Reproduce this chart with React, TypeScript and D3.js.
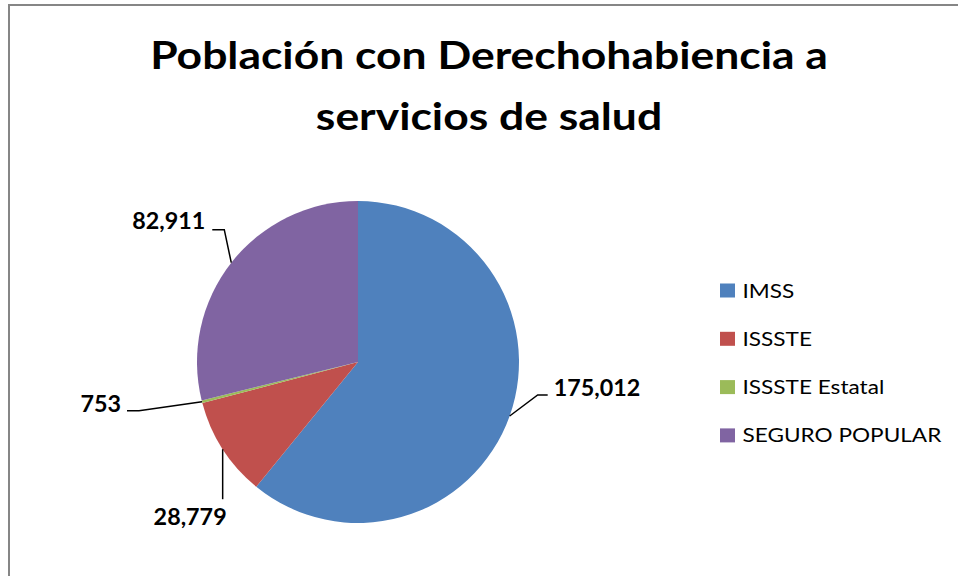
import React from "react";
import * as d3 from "d3";

const categories = ["IMSS", "ISSSTE", "ISSSTE Estatal", "SEGURO POPULAR"];
const values = [175012, 28779, 753, 82911];
const labels = ["175,012", "28,779", "753", "82,911"];
const colors = ["#4F81BD", "#C0504D", "#9BBB59", "#8064A2"];
const titleLines = ["Población con Derechohabiencia a", "servicios de salud"];

// leader layout: elbow offset, horizontal length, text offset, anchor
type Leader = { ex: number; ey: number; hx: number; tdx: number; tdy: number; anchor: "start" | "end" | "middle" };
const leaders: Leader[] = [
  { ex: 28, ey: -21, hx: 10, tdx: 6, tdy: 1, anchor: "start" },
  { ex: 0, ey: 50, hx: 0, tdx: 4, tdy: 26, anchor: "end" },
  { ex: -63, ey: 9, hx: -12, tdx: -6, tdy: 1, anchor: "end" },
  { ex: -7, ey: -33, hx: -12, tdx: -7, tdy: -1, anchor: "end" },
];

const W = 958;
const H = 576;
const cx = 358;
const cy = 362;
const R = 161;
const FONT = "Lato, 'Open Sans', sans-serif";

function SText(props: {
  x: number; y: number; k: number; size: number; bold?: boolean;
  anchor?: "start" | "end" | "middle"; children: React.ReactNode;
}) {
  const { x, y, k, size, bold, anchor = "start", children } = props;
  return (
    <text
      transform={`translate(${x},${y}) scale(${k},1)`}
      textAnchor={anchor}
      fontSize={size}
      fontWeight={bold ? "bold" : "normal"}
      fill="#000"
    >
      {children}
    </text>
  );
}

export default function App() {
  const data = categories.map((c, i) => ({ c, v: values[i], i }));
  const pie = d3.pie<any>().sort(null).value((d) => d.v).startAngle(0).endAngle(2 * Math.PI);
  const arcs = pie(data);
  const arc = d3.arc<any>().innerRadius(0).outerRadius(R);

  return (
    <svg width={W} height={H} style={{ position: "absolute", left: 0, top: 0, background: "#fff" }} fontFamily={FONT}>
      <rect x={0} y={0} width={W} height={H} fill="#fff" />
      <path d={`M9,${H} V5 H${W}`} fill="none" stroke="#868686" strokeWidth={2} />
      <SText x={489} y={69} k={1.14} size={39} bold anchor="middle">{titleLines[0]}</SText>
      <SText x={489} y={130} k={1.14} size={39} bold anchor="middle">{titleLines[1]}</SText>
      <g transform={`translate(${cx},${cy})`}>
        {arcs.map((a, i) => (
          <path key={i} d={arc(a) as string} fill={colors[i]} />
        ))}
        {arcs.map((a, i) => {
          const mid = (a.startAngle + a.endAngle) / 2;
          const px = R * Math.sin(mid);
          const py = -R * Math.cos(mid);
          const L = leaders[i];
          const ex = px + L.ex;
          const ey = py + L.ey;
          const hx = ex + L.hx;
          return (
            <g key={"l" + i}>
              <path d={`M${px},${py} L${ex},${ey} L${hx},${ey}`} fill="none" stroke="#000" strokeWidth={1.5} />
              <SText x={hx + L.tdx} y={ey + L.tdy} k={1.06} size={22} bold anchor={L.anchor}>
                {labels[i]}
              </SText>
            </g>
          );
        })}
      </g>
      <g>
        {categories.map((c, i) => (
          <g key={c} transform={`translate(720,${290.5 + i * 48.3})`}>
            <rect x={0} y={-7} width={15} height={14} fill={colors[i]} />
            <SText x={22.5} y={7} k={1.13} size={20}>{c}</SText>
          </g>
        ))}
      </g>
    </svg>
  );
}
